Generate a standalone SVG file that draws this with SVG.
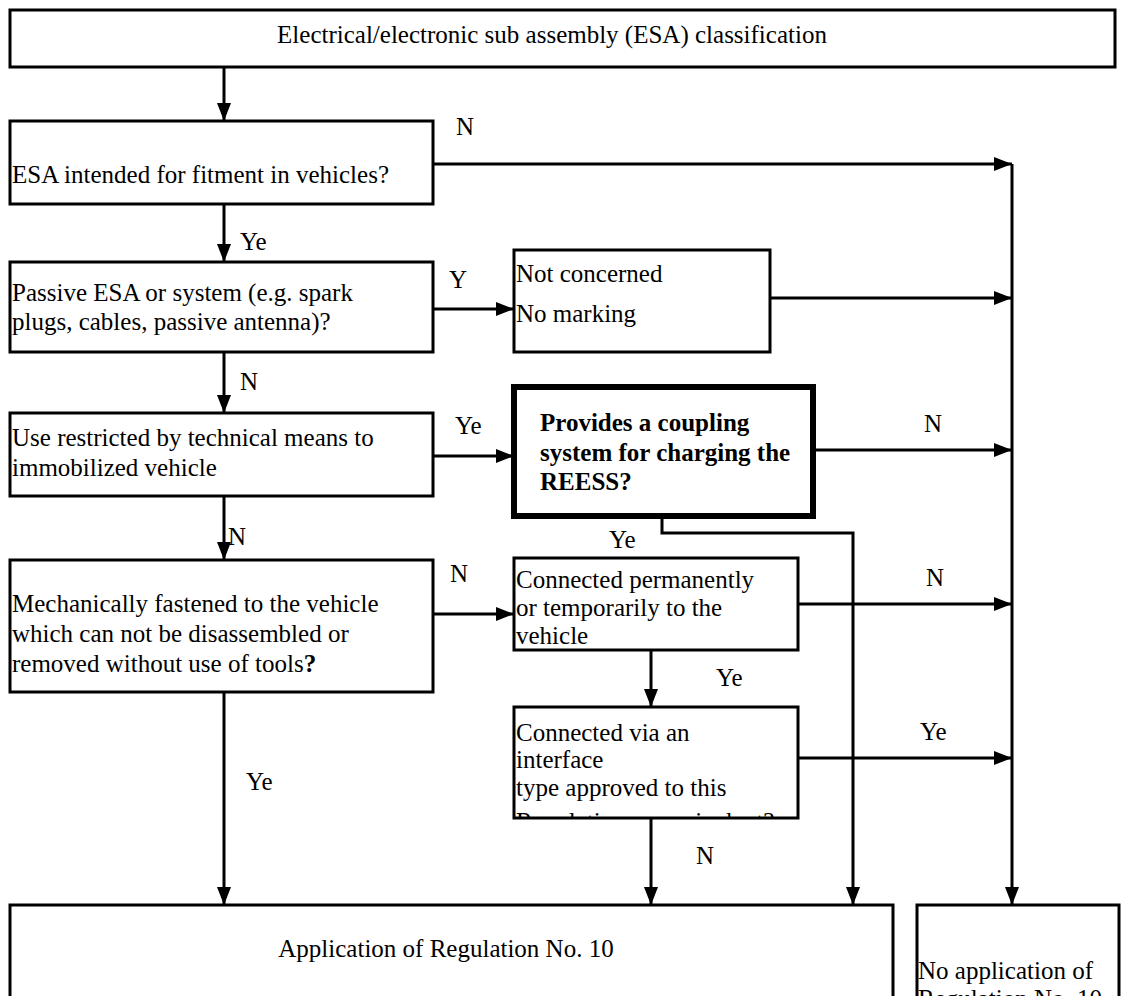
<svg xmlns="http://www.w3.org/2000/svg" width="1129" height="996" viewBox="0 0 1129 996">
<style>
.box{fill:#fff;stroke:#000;stroke-width:3}
.bold{fill:#fff;stroke:#000;stroke-width:6}
.t{font-family:"Liberation Serif","Times New Roman",serif;font-size:25px;fill:#000}
.b{font-weight:bold}
.c{fill:none;stroke:#000;stroke-width:3}
</style>
<defs>
<marker id="ah" markerUnits="userSpaceOnUse" markerWidth="20" markerHeight="14" refX="18" refY="7" orient="auto">
<path d="M0,0 L18,7 L0,14 Z" fill="#000"/>
</marker>
<clipPath id="cv"><rect x="514" y="707" width="284" height="111"/></clipPath>
</defs>
<rect width="1129" height="996" fill="#fff"/>
<g id="connectors">
<path class="c" d="M224,67 V121" marker-end="url(#ah)"/>
<path class="c" d="M433,164 H1012" marker-end="url(#ah)"/>
<path class="c" d="M1012,164 V905" marker-end="url(#ah)"/>
<path class="c" d="M224,204 V262" marker-end="url(#ah)"/>
<path class="c" d="M433,309 H514" marker-end="url(#ah)"/>
<path class="c" d="M770,298 H1012" marker-end="url(#ah)"/>
<path class="c" d="M224,352 V413" marker-end="url(#ah)"/>
<path class="c" d="M433,456 H514" marker-end="url(#ah)"/>
<path class="c" d="M813,450 H1012" marker-end="url(#ah)"/>
<path class="c" d="M662,516 V533 H853 V905" marker-end="url(#ah)"/>
<path class="c" d="M224,496 V560" marker-end="url(#ah)"/>
<path class="c" d="M433,614 H514" marker-end="url(#ah)"/>
<path class="c" d="M798,604 H1012" marker-end="url(#ah)"/>
<path class="c" d="M651,650 V707" marker-end="url(#ah)"/>
<path class="c" d="M798,758 H1012" marker-end="url(#ah)"/>
<path class="c" d="M651,818 V905" marker-end="url(#ah)"/>
<path class="c" d="M224,692 V905" marker-end="url(#ah)"/>
</g>
<g id="labels">
<text class="t" x="456" y="135">N</text>
<text class="t" x="240" y="250">Ye</text>
<text class="t" x="449" y="288">Y</text>
<text class="t" x="240" y="390">N</text>
<text class="t" x="455" y="434">Ye</text>
<text class="t" x="924" y="432">N</text>
<text class="t" x="609" y="548">Ye</text>
<text class="t" x="228" y="545">N</text>
<text class="t" x="450" y="582">N</text>
<text class="t" x="926" y="586">N</text>
<text class="t" x="716" y="686">Ye</text>
<text class="t" x="920" y="740">Ye</text>
<text class="t" x="696" y="864">N</text>
<text class="t" x="246" y="790">Ye</text>
</g>
<g id="n-title">
<rect class="box" x="10" y="10" width="1105" height="57"/>
<text class="t" x="552" y="43" text-anchor="middle">Electrical/electronic sub assembly (ESA) classification</text>
</g>
<g id="n-fitment">
<rect class="box" x="10" y="121" width="423" height="83"/>
<text class="t" x="12" y="183">ESA intended for fitment in vehicles?</text>
</g>
<g id="n-passive">
<rect class="box" x="10" y="262" width="423" height="90"/>
<text class="t" x="12" y="301">Passive ESA or system (e.g. spark</text>
<text class="t" x="12" y="330">plugs, cables, passive antenna)?</text>
</g>
<g id="n-notconcerned">
<rect class="box" x="514" y="250" width="256" height="102"/>
<text class="t" x="516" y="282">Not concerned</text>
<text class="t" x="516" y="322">No marking</text>
</g>
<g id="n-restricted">
<rect class="box" x="10" y="413" width="423" height="83"/>
<text class="t" x="12" y="446">Use restricted by technical means to</text>
<text class="t" x="12" y="476">immobilized vehicle</text>
</g>
<g id="n-coupling">
<rect class="bold" x="514" y="387" width="299" height="129"/>
<text class="t b" x="540" y="431">Provides a coupling</text>
<text class="t b" x="540" y="461">system for charging the</text>
<text class="t b" x="540" y="490">REESS?</text>
</g>
<g id="n-mechanical">
<rect class="box" x="10" y="560" width="423" height="132"/>
<text class="t" x="12" y="612">Mechanically fastened to the vehicle</text>
<text class="t" x="12" y="642">which can not be disassembled or</text>
<text class="t" x="12" y="672">removed without use of tools<tspan class="b">?</tspan></text>
</g>
<g id="n-connected">
<rect class="box" x="514" y="558" width="284" height="92"/>
<text class="t" x="516" y="588">Connected permanently</text>
<text class="t" x="516" y="616">or temporarily to the</text>
<text class="t" x="516" y="644">vehicle</text>
</g>
<g id="n-interface">
<rect class="box" x="514" y="707" width="284" height="111"/>
<g clip-path="url(#cv)">
<text class="t" x="516" y="741">Connected via an</text>
<text class="t" x="516" y="768">interface</text>
<text class="t" x="516" y="796">type approved to this</text>
<text class="t" x="516" y="830">Regulation or equivalent?</text>
</g>
</g>
<g id="n-application">
<rect class="box" x="10" y="905" width="883" height="100"/>
<text class="t" x="446" y="957" text-anchor="middle">Application of Regulation No. 10</text>
</g>
<g id="n-noapplication">
<rect class="box" x="917" y="905" width="202" height="100"/>
<text class="t" x="918" y="979">No application of</text>
<text class="t" x="918" y="1007">Regulation No. 10</text>
</g>
</svg>
